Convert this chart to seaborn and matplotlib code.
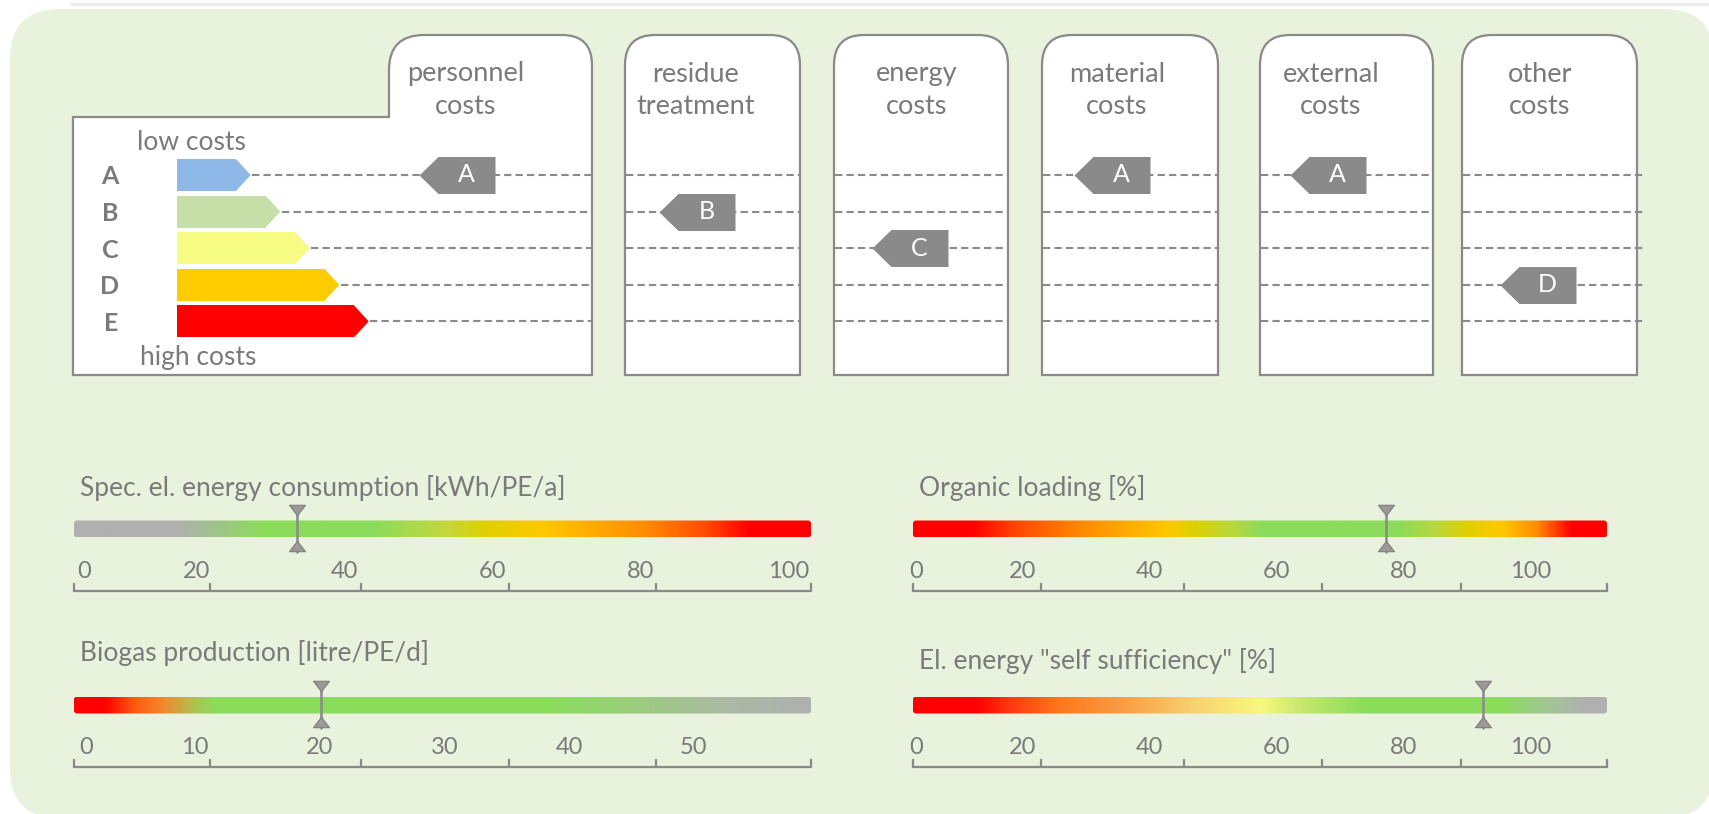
import numpy as np
import matplotlib
matplotlib.use("Agg")
import matplotlib.pyplot as plt
import seaborn as sns
from matplotlib.path import Path
from matplotlib.patches import PathPatch, FancyBboxPatch
from matplotlib.colors import LinearSegmentedColormap

# ---------------- data ----------------
grades = ["A", "B", "C", "D", "E"]
grade_colors = ["#8DB8E8", "#C6DFA9", "#F6FB82", "#FFCC00", "#FF0000"]
grade_scale_length = [2.5, 3.5, 4.5, 5.5, 6.5]
scale_top_label = "low costs"
scale_bottom_label = "high costs"

cost_categories = ["personnel\ncosts", "residue\ntreatment", "energy\ncosts",
                   "material\ncosts", "external\ncosts", "other\ncosts"]
cost_grades = ["A", "B", "C", "A", "A", "D"]

gauge_titles = ["Spec. el. energy consumption [kWh/PE/a]", "Organic loading [%]",
                "Biogas production [litre/PE/d]", 'El. energy "self sufficiency" [%]']
gauge_tick_labels = [[0, 20, 40, 60, 80, 100], [0, 20, 40, 60, 80, 100],
                     [0, 10, 20, 30, 40, 50], [0, 20, 40, 60, 80, 100]]
gauge_ranges = [(3.4, 103.0), (2.8, 112.1), (0.3, 59.4), (2.8, 112.1)]
gauge_values = [33.6, 77.3, 20.1, 92.5]

# ---------------- style / layout ----------------
gauge_color_stops = [
    [(0, "#B0B0B0"), (0.138, "#B0B0B0"), (0.255, "#8CDC5C"), (0.408, "#8CDC5C"),
     (0.50, "#C0D840"), (0.56, "#E0D000"), (0.64, "#FFC800"), (0.776, "#FF8C00"),
     (0.86, "#FF4A00"), (0.918, "#FF0000"), (1, "#FF0000")],
    [(0, "#FF0000"), (0.083, "#FF0000"), (0.15, "#FF4A00"), (0.245, "#FF8C00"),
     (0.365, "#FFC800"), (0.40, "#E0D000"), (0.465, "#B4D840"), (0.50, "#8CDC5C"),
     (0.70, "#8CDC5C"), (0.75, "#B4D840"), (0.80, "#E0D000"), (0.85, "#FFC800"),
     (0.90, "#FF8C00"), (0.95, "#FF0000"), (1, "#FF0000")],
    [(0, "#FF0000"), (0.04, "#FF0000"), (0.08, "#FF5A10"), (0.12, "#F08A30"),
     (0.16, "#B0C050"), (0.19, "#8CDC5C"), (0.65, "#8CDC5C"), (0.77, "#9CCB80"),
     (0.89, "#ABB9A4"), (1, "#B0B0B0")],
    [(0, "#FF0000"), (0.089, "#FF0000"), (0.14, "#FF3A10"), (0.214, "#FF7A20"),
     (0.307, "#F8A048"), (0.40, "#F8D070"), (0.50, "#F8F880"), (0.557, "#C8E870"),
     (0.65, "#8CDC5C"), (0.85, "#8CDC5C"), (0.92, "#A4C498"), (0.97, "#B0B0B0"),
     (1, "#B0B0B0")],
]
gauge_bar_px = [(74, 811, 529), (913, 1607, 529), (74, 811, 705), (913, 1607, 705)]
gauge_title_y = [488, 488, 653, 661]
zero_label_dx = [2, -3, 4, -3]
ruler_fracs = [0, 0.185, 0.39, 0.59, 0.79, 1.0]

box_edges = [(389, 592), (625, 800), (834, 1008), (1042, 1218), (1260, 1433), (1462, 1637)]
line_ext = [0, 0, 0, 0, 0, 10]
col_centers = [466, 696, 917, 1117, 1331, 1540]
tag_x = [457, 697, 910, 1112, 1328, 1538]
BOX_TOP, BOX_BOT = 35, 375
PANEL_LEFT, PANEL_STEP_Y = 73, 117
ROW0_Y, ROW_DY = 175, 36.6
LADDER_X0, LADDER_UNIT = 177, 29.5

TXT = "#7A7A7A"
EDGE = "#8A8A8A"
TAG = "#8A8A8A"
BG = "#E9F2DD"

sns.set_theme(style="white")
plt.rcParams["font.family"] = ["Lato", "DejaVu Sans"]

W, H = 1709, 814
fig = plt.figure(figsize=(W / 100, H / 100), dpi=100)
fig.patch.set_facecolor("white")


def frect(x0, y0, x1, y1):
    return [x0 / W, 1 - y1 / H, (x1 - x0) / W, (y1 - y0) / H]


def rounded_poly(verts, radii):
    pts, codes = [], []
    n = len(verts)
    for i in range(n):
        p = np.array(verts[i], float)
        r = radii[i]
        if r == 0:
            pts.append(p)
            codes.append(Path.LINETO)
        else:
            a = np.array(verts[i - 1], float)
            b = np.array(verts[(i + 1) % n], float)
            d1 = (a - p) / np.linalg.norm(a - p)
            d2 = (b - p) / np.linalg.norm(b - p)
            pts += [p + d1 * r, p, p + d2 * r]
            codes += [Path.LINETO, Path.CURVE3, Path.CURVE3]
    codes[0] = Path.MOVETO
    pts.append(pts[0])
    codes.append(Path.CLOSEPOLY)
    return Path(pts, codes)


# ---------------- canvas ----------------
canvas = fig.add_axes([0, 0, 1, 1])
canvas.set_xlim(0, W)
canvas.set_ylim(H, 0)
canvas.axis("off")
canvas.plot([70, W], [4, 4], color="#ECECEC", lw=2.5, solid_capstyle="butt")
canvas.add_patch(FancyBboxPatch((10, 9), 1704, 809, boxstyle="round,pad=0,rounding_size=50",
                                facecolor=BG, edgecolor="none"))

# energy label panel with personnel tab
l0, r0 = box_edges[0]
panel = rounded_poly([(PANEL_LEFT, BOX_BOT), (PANEL_LEFT, PANEL_STEP_Y), (l0, PANEL_STEP_Y),
                      (l0, BOX_TOP), (r0, BOX_TOP), (r0, BOX_BOT)], [0, 0, 0, 35, 30, 0])
canvas.add_patch(PathPatch(panel, facecolor="white", edgecolor=EDGE, lw=1.6))
for (l, r) in box_edges[1:]:
    p = rounded_poly([(l, BOX_BOT), (l, BOX_TOP), (r, BOX_TOP), (r, BOX_BOT)], [0, 30, 30, 0])
    canvas.add_patch(PathPatch(p, facecolor="white", edgecolor=EDGE, lw=1.6))

for cx, name in zip(col_centers, cost_categories):
    l1, l2 = name.split("\n")
    canvas.text(cx, 74, l1, ha="center", va="center", fontsize=19.5, color=TXT)
    canvas.text(cx, 107, l2, ha="center", va="center", fontsize=19.5, color=TXT)

canvas.text(137, 143, scale_top_label, ha="left", va="center", fontsize=19, color=TXT)
canvas.text(140, 358, scale_bottom_label, ha="left", va="center", fontsize=19, color=TXT)

band_top = ROW0_Y - ROW_DY / 2
band_bot = ROW0_Y + ROW_DY * (len(grades) - 0.5)

# ---------------- grade ladder (seaborn bars) ----------------
panel_u = (r0 - LADDER_X0) / LADDER_UNIT
ax_scale = fig.add_axes(frect(LADDER_X0, band_top, r0, band_bot))
rect_len = [v - 0.5 for v in grade_scale_length]
sns.barplot(x=rect_len, y=grades, hue=grades, palette=grade_colors, orient="h",
            width=0.87, saturation=1, legend=False, linewidth=0, ax=ax_scale)
for i, L in enumerate(grade_scale_length):
    ax_scale.fill([L - 0.5, L, L - 0.5], [i - 0.435, i, i + 0.435],
                  color=grade_colors[i], lw=0)
ax_scale.hlines(range(len(grades)), [L + 0.05 for L in grade_scale_length], panel_u,
                colors=EDGE, linestyles=(0, (3.5, 2)), lw=1.5)
ax_scale.set_xlim(0, panel_u)
ax_scale.set_ylim(len(grades) - 0.5, -0.5)
ax_scale.set_facecolor("none")
for s in ax_scale.spines.values():
    s.set_visible(False)
ax_scale.set_xticks([])
ax_scale.set_xlabel("")
ax_scale.set_ylabel("")
ax_scale.set_yticks(range(len(grades)), grades)
ax_scale.tick_params(axis="y", left=False, pad=36)
for t in ax_scale.get_yticklabels():
    t.set_fontweight("bold")
    t.set_fontsize(18)
    t.set_color(TXT)

# ---------------- cost boxes: dashed rows + grade tags ----------------
ax_top = fig.add_axes(frect(0, band_top, W, band_bot))
for (l, r), ext in zip(box_edges[1:], line_ext[1:]):
    ax_top.hlines(range(len(grades)), l + 1, r - 1 + ext, colors=EDGE,
                  linestyles=(0, (3.5, 2)), lw=1.5)

tag_path = Path([(-38, 0), (-19, 18.5), (38, 18.5), (38, -18.5), (-19, -18.5), (-38, 0)],
                [Path.MOVETO] + [Path.LINETO] * 4 + [Path.CLOSEPOLY])
tag_y = [grades.index(g) for g in cost_grades]
sns.scatterplot(x=tag_x, y=tag_y, marker=tag_path, s=(76 * 0.72) ** 2,
                color=TAG, linewidth=0, legend=False, ax=ax_top, clip_on=False, zorder=5)
for x, yv, g in zip(tag_x, tag_y, cost_grades):
    ax_top.annotate(g, (x, yv), xytext=(6.8, 0), textcoords="offset points",
                    ha="center", va="center", fontsize=18, color="white", zorder=6)
ax_top.set_xlim(0, W)
ax_top.set_ylim(len(grades) - 0.5, -0.5)
ax_top.axis("off")

# ---------------- gauges ----------------
tri_down = Path([(-1, 0.65), (1, 0.65), (0, -0.65), (-1, 0.65)],
                [Path.MOVETO, Path.LINETO, Path.LINETO, Path.CLOSEPOLY])
tri_up = Path([(-1, -0.65), (1, -0.65), (0, 0.65), (-1, -0.65)],
              [Path.MOVETO, Path.LINETO, Path.LINETO, Path.CLOSEPOLY])
grad = np.linspace(0, 1, 600)[None, :]
for k in range(4):
    l, r, cy = gauge_bar_px[k]
    lo, hi = gauge_ranges[k]
    ax = fig.add_axes(frect(l, cy - 50, r, cy + 80))
    ppu = (r - l) / (hi - lo)
    cmap = LinearSegmentedColormap.from_list(f"g{k}", gauge_color_stops[k])
    im = ax.imshow(grad, cmap=cmap, extent=(lo, hi, 8.5, -8.5), aspect="auto",
                   interpolation="bilinear")
    clip = FancyBboxPatch((lo, -8.5), hi - lo, 17,
                          boxstyle=f"round,pad=0,rounding_size={3 / ppu}",
                          mutation_aspect=ppu, transform=ax.transData,
                          facecolor="none", edgecolor="none")
    ax.add_patch(clip)
    im.set_clip_path(clip)
    # ruler
    ax.plot([lo, hi], [62, 62], color=EDGE, lw=1.6, solid_capstyle="butt")
    tick_x = [lo + f * (hi - lo) for f in ruler_fracs]
    ax.vlines(tick_x, 62.8, 54, colors=EDGE, lw=1.6, clip_on=False)
    for v in gauge_tick_labels[k]:
        if v < lo:
            ax.annotate(str(v), (lo, 42), xytext=(zero_label_dx[k], 0),
                        textcoords="offset points", ha="left", va="center",
                        fontsize=17, color=TXT)
        else:
            ax.text(v, 42, str(v), ha="center", va="center", fontsize=17, color=TXT)
    # value marker
    val = gauge_values[k]
    ax.plot([val, val], [-23, 23], color=EDGE, lw=1.8)
    ax.scatter([val], [-19], marker=tri_down, s=(16 * 0.72) ** 2, facecolor="#9A9A9A",
               edgecolor="#7E7E7E", lw=0.8, zorder=4)
    ax.scatter([val], [17], marker=tri_up, s=(16 * 0.72) ** 2, facecolor="#9A9A9A",
               edgecolor="#7E7E7E", lw=0.8, zorder=4)
    ax.set_xlim(lo, hi)
    ax.set_ylim(80, -50)
    ax.axis("off")
    canvas.text(l + 6, gauge_title_y[k], gauge_titles[k], ha="left", va="center",
                fontsize=19, color=TXT)

fig.savefig("out.png", dpi=100)
